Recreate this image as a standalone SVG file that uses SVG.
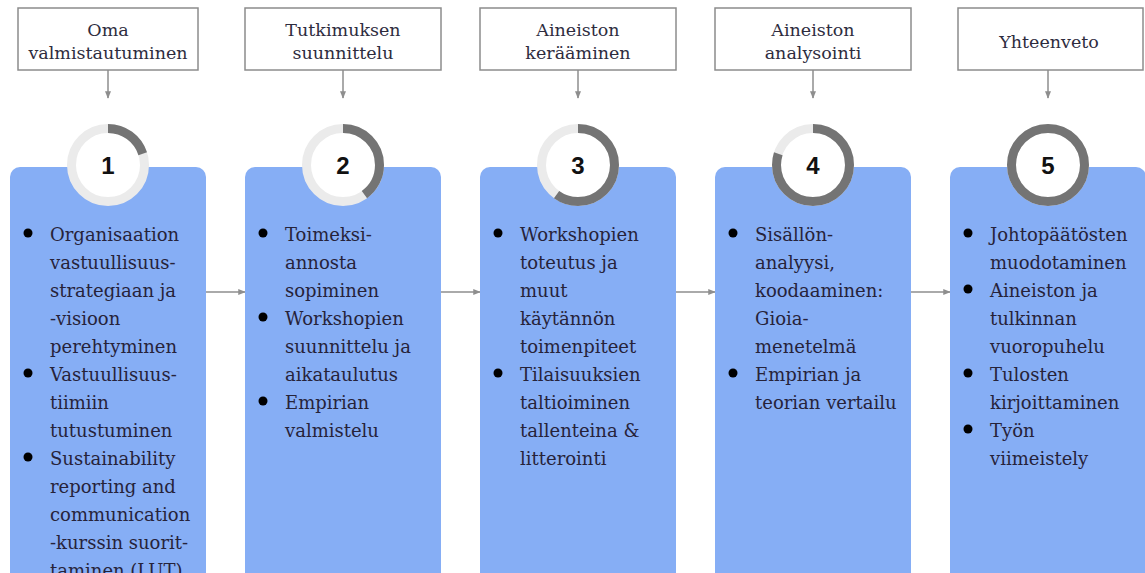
<svg xmlns="http://www.w3.org/2000/svg" width="1145" height="573" viewBox="0 0 1145 573">
  <defs>
    <style>
      .hdr { fill: #ffffff; stroke: #8c8c8c; stroke-width: 1.5; }
      .hdr-t { font-family: "DejaVu Serif", "Liberation Serif", serif; font-size: 17.5px; fill: #2e2c3e; text-anchor: middle; }
      .card { fill: #86aef5; }
      .body-t { font-family: "DejaVu Serif", "Liberation Serif", serif; font-size: 18px; fill: #26233a; }
      .dot { fill: #000000; }
      .track { fill: #ffffff; stroke: #ebebeb; stroke-width: 9; }
      .prog { fill: none; stroke: #747474; stroke-width: 9; }
      .num { font-family: "Liberation Sans", Arial, sans-serif; font-weight: bold; font-size: 24px; fill: #111111; text-anchor: middle; }
      .link { fill: none; stroke: #8e8e8e; stroke-width: 1.5; marker-end: url(#tip); }
    </style>
    <marker id="tip" viewBox="0 0 10 10" refX="9" refY="5" markerWidth="5" markerHeight="5" orient="auto">
      <path d="M0,1 L10,5 L0,9 z" fill="#8e8e8e"/>
    </marker>
  </defs>

  <rect width="1145" height="573" fill="#ffffff"/>

  <!-- connectors: header to step, and step to step -->
  <g id="connectors">
    <line class="link" x1="108" y1="70" x2="108" y2="98"/>
    <line class="link" x1="343" y1="70" x2="343" y2="98"/>
    <line class="link" x1="578" y1="70" x2="578" y2="98"/>
    <line class="link" x1="813" y1="70" x2="813" y2="98"/>
    <line class="link" x1="1048" y1="70" x2="1048" y2="98"/>
    <line class="link" x1="206" y1="292" x2="245" y2="292"/>
    <line class="link" x1="441" y1="292" x2="480" y2="292"/>
    <line class="link" x1="676" y1="292" x2="715" y2="292"/>
    <line class="link" x1="911" y1="292" x2="950" y2="292"/>
  </g>

  <!-- step 1 -->
  <g id="step1">
    <rect class="hdr" x="18" y="8" width="180" height="62"/>
    <text class="hdr-t" x="108" y="36">Oma</text>
    <text class="hdr-t" x="108" y="59">valmistautuminen</text>
    <rect class="card" x="10" y="167" width="196" height="430" rx="10"/>
    <circle class="track" cx="108" cy="165" r="36.5"/>
    <circle class="prog" cx="108" cy="165" r="36.5" pathLength="100" stroke-dasharray="20 100" transform="rotate(-90 108 165)"/>
    <text class="num" x="108" y="174">1</text>
    <circle class="dot" cx="28" cy="233" r="4.5"/>
    <circle class="dot" cx="28" cy="373" r="4.5"/>
    <circle class="dot" cx="28" cy="457" r="4.5"/>
    <text class="body-t">
      <tspan x="50" y="241">Organisaation</tspan>
      <tspan x="50" y="269">vastuullisuus-</tspan>
      <tspan x="50" y="297">strategiaan ja</tspan>
      <tspan x="50" y="325">-visioon</tspan>
      <tspan x="50" y="353">perehtyminen</tspan>
      <tspan x="50" y="381">Vastuullisuus-</tspan>
      <tspan x="50" y="409">tiimiin</tspan>
      <tspan x="50" y="437">tutustuminen</tspan>
      <tspan x="50" y="465">Sustainability</tspan>
      <tspan x="50" y="493">reporting and</tspan>
      <tspan x="50" y="521">communication</tspan>
      <tspan x="50" y="549">-kurssin suorit-</tspan>
      <tspan x="50" y="577">taminen (LUT)</tspan>
    </text>
  </g>

  <!-- step 2 -->
  <g id="step2">
    <rect class="hdr" x="245" y="8" width="196" height="62"/>
    <text class="hdr-t" x="343" y="36">Tutkimuksen</text>
    <text class="hdr-t" x="343" y="59">suunnittelu</text>
    <rect class="card" x="245" y="167" width="196" height="430" rx="10"/>
    <circle class="track" cx="343" cy="165" r="36.5"/>
    <circle class="prog" cx="343" cy="165" r="36.5" pathLength="100" stroke-dasharray="40 100" transform="rotate(-90 343 165)"/>
    <text class="num" x="343" y="174">2</text>
    <circle class="dot" cx="263" cy="233" r="4.5"/>
    <circle class="dot" cx="263" cy="317" r="4.5"/>
    <circle class="dot" cx="263" cy="401" r="4.5"/>
    <text class="body-t">
      <tspan x="285" y="241">Toimeksi-</tspan>
      <tspan x="285" y="269">annosta</tspan>
      <tspan x="285" y="297">sopiminen</tspan>
      <tspan x="285" y="325">Workshopien</tspan>
      <tspan x="285" y="353">suunnittelu ja</tspan>
      <tspan x="285" y="381">aikataulutus</tspan>
      <tspan x="285" y="409">Empirian</tspan>
      <tspan x="285" y="437">valmistelu</tspan>
    </text>
  </g>

  <!-- step 3 -->
  <g id="step3">
    <rect class="hdr" x="480" y="8" width="196" height="62"/>
    <text class="hdr-t" x="578" y="36">Aineiston</text>
    <text class="hdr-t" x="578" y="59">kerääminen</text>
    <rect class="card" x="480" y="167" width="196" height="430" rx="10"/>
    <circle class="track" cx="578" cy="165" r="36.5"/>
    <circle class="prog" cx="578" cy="165" r="36.5" pathLength="100" stroke-dasharray="60 100" transform="rotate(-90 578 165)"/>
    <text class="num" x="578" y="174">3</text>
    <circle class="dot" cx="498" cy="233" r="4.5"/>
    <circle class="dot" cx="498" cy="373" r="4.5"/>
    <text class="body-t">
      <tspan x="520" y="241">Workshopien</tspan>
      <tspan x="520" y="269">toteutus ja</tspan>
      <tspan x="520" y="297">muut</tspan>
      <tspan x="520" y="325">käytännön</tspan>
      <tspan x="520" y="353">toimenpiteet</tspan>
      <tspan x="520" y="381">Tilaisuuksien</tspan>
      <tspan x="520" y="409">taltioiminen</tspan>
      <tspan x="520" y="437">tallenteina &amp;</tspan>
      <tspan x="520" y="465">litterointi</tspan>
    </text>
  </g>

  <!-- step 4 -->
  <g id="step4">
    <rect class="hdr" x="715" y="8" width="196" height="62"/>
    <text class="hdr-t" x="813" y="36">Aineiston</text>
    <text class="hdr-t" x="813" y="59">analysointi</text>
    <rect class="card" x="715" y="167" width="196" height="430" rx="10"/>
    <circle class="track" cx="813" cy="165" r="36.5"/>
    <circle class="prog" cx="813" cy="165" r="36.5" pathLength="100" stroke-dasharray="80 100" transform="rotate(-90 813 165)"/>
    <text class="num" x="813" y="174">4</text>
    <circle class="dot" cx="733" cy="233" r="4.5"/>
    <circle class="dot" cx="733" cy="373" r="4.5"/>
    <text class="body-t">
      <tspan x="755" y="241">Sisällön-</tspan>
      <tspan x="755" y="269">analyysi,</tspan>
      <tspan x="755" y="297">koodaaminen:</tspan>
      <tspan x="755" y="325">Gioia-</tspan>
      <tspan x="755" y="353">menetelmä</tspan>
      <tspan x="755" y="381">Empirian ja</tspan>
      <tspan x="755" y="409">teorian vertailu</tspan>
    </text>
  </g>

  <!-- step 5 -->
  <g id="step5">
    <rect class="hdr" x="958" y="8" width="185" height="62"/>
    <text class="hdr-t" x="1049" y="48">Yhteenveto</text>
    <rect class="card" x="950" y="167" width="196" height="430" rx="10"/>
    <circle class="track" cx="1048" cy="165" r="36.5"/>
    <circle class="prog" cx="1048" cy="165" r="36.5" pathLength="100" stroke-dasharray="100 100" transform="rotate(-90 1048 165)"/>
    <text class="num" x="1048" y="174">5</text>
    <circle class="dot" cx="968" cy="233" r="4.5"/>
    <circle class="dot" cx="968" cy="289" r="4.5"/>
    <circle class="dot" cx="968" cy="373" r="4.5"/>
    <circle class="dot" cx="968" cy="429" r="4.5"/>
    <text class="body-t">
      <tspan x="990" y="241">Johtopäätösten</tspan>
      <tspan x="990" y="269">muodotaminen</tspan>
      <tspan x="990" y="297">Aineiston ja</tspan>
      <tspan x="990" y="325">tulkinnan</tspan>
      <tspan x="990" y="353">vuoropuhelu</tspan>
      <tspan x="990" y="381">Tulosten</tspan>
      <tspan x="990" y="409">kirjoittaminen</tspan>
      <tspan x="990" y="437">Työn</tspan>
      <tspan x="990" y="465">viimeistely</tspan>
    </text>
  </g>
</svg>
